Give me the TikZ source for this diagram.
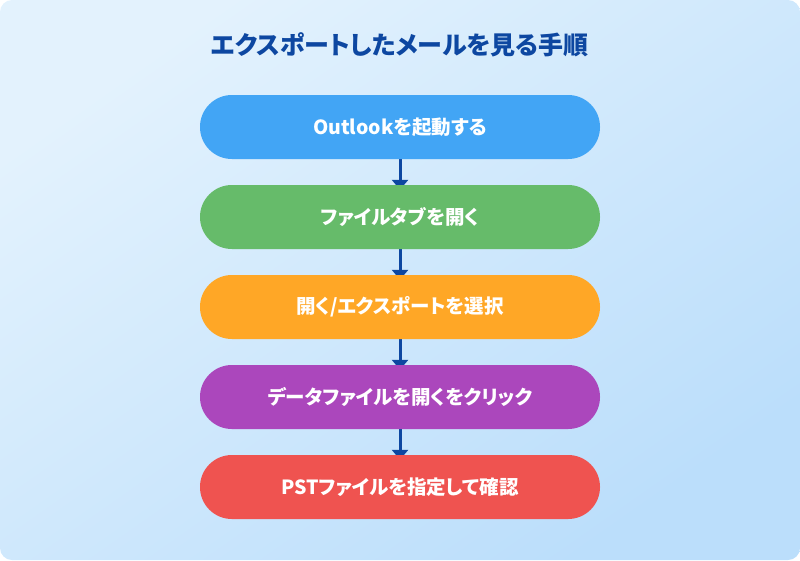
\documentclass[tikz,border=0pt]{standalone}
\usepackage{fontspec}
\newfontfamily\jp{Noto Sans CJK JP}[RawFeature=+palt]
\usetikzlibrary{arrows.meta}
\definecolor{bgA}{HTML}{E3F2FD}
\definecolor{bgB}{HTML}{BBDEFB}
\definecolor{titleblue}{HTML}{0D47A1}
\definecolor{arrowblue}{HTML}{0D47A1}
\definecolor{cA}{HTML}{42A5F5}
\definecolor{cB}{HTML}{66BB6A}
\definecolor{cC}{HTML}{FFA726}
\definecolor{cD}{HTML}{AB47BC}
\definecolor{cE}{HTML}{EF5350}
\pgfdeclarelayer{bg}
\pgfdeclarelayer{arrows}
\pgfsetlayers{bg,arrows,main}
\tikzset{
  titletext/.style={font=\jp\bfseries\fontsize{25pt}{29pt}\selectfont, text=titleblue, inner sep=0pt},
  stepbox/.style={minimum width=400pt, minimum height=64pt, rounded corners=31.9pt,
    inner sep=0pt, text=white, font=\jp\bfseries\fontsize{19.5pt}{23pt}\selectfont},
  flowarrow/.style={draw=arrowblue, line width=3pt, -{Triangle[width=16pt,length=10pt]}}
}
\begin{document}
\begin{tikzpicture}[x=1pt,y=-1pt]
\useasboundingbox (0,0) rectangle (800,560);
\begin{pgfonlayer}{bg}
\shade[top color=bgA, bottom color=bgB, shading angle=35, rounded corners=12pt] (0,0) rectangle (800,560);
\end{pgfonlayer}
\node[titletext] (title) at (400,45) {エクスポートしたメールを見る手順};
\node[stepbox, fill=cA] (s1) at (400,127) {Outlookを起動する};
\node[stepbox, fill=cB] (s2) at (400,217) {ファイルタブを開く};
\node[stepbox, fill=cC] (s3) at (400,307) {開く/エクスポートを選択};
\node[stepbox, fill=cD] (s4) at (400,397) {データファイルを開くをクリック};
\node[stepbox, fill=cE] (s5) at (400,487) {PSTファイルを指定して確認};
\begin{pgfonlayer}{arrows}
\draw[flowarrow] (s1.south) -- ([yshift=-5pt]s2.north);
\draw[flowarrow] (s2.south) -- ([yshift=-5pt]s3.north);
\draw[flowarrow] (s3.south) -- ([yshift=-5pt]s4.north);
\draw[flowarrow] (s4.south) -- ([yshift=-5pt]s5.north);
\end{pgfonlayer}
\end{tikzpicture}
\end{document}
